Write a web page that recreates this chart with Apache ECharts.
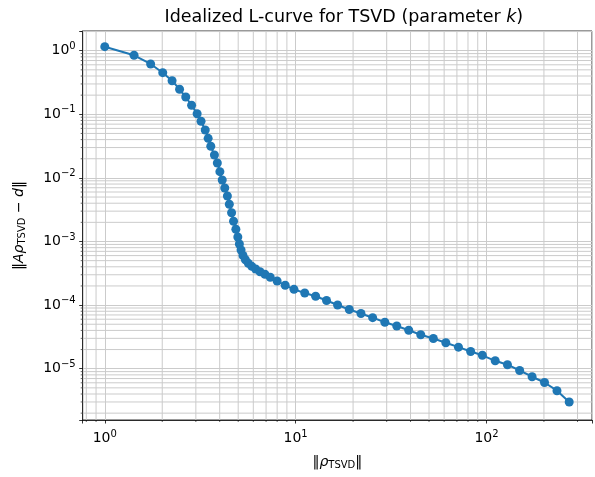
<!DOCTYPE html>
<html><head><meta charset="utf-8">
<script src="https://cdn.jsdelivr.net/npm/echarts@6/dist/echarts.min.js"></script>
<style>html,body{margin:0;padding:0;background:#fff}#c{width:595px;height:477px}</style>
</head><body><div id="c"></div>
<script>
// ||rho_TSVD|| for each truncation parameter k
const rhoNorm = [1.0, 1.423, 1.739, 2.012, 2.252, 2.465, 2.656, 2.850, 3.047, 3.194,
  3.360, 3.480, 3.593, 3.753, 3.888, 4.009, 4.124, 4.252, 4.389, 4.493,
  4.617, 4.727, 4.862, 4.977, 5.072, 5.175, 5.298, 5.456, 5.652, 5.89,
  6.173, 6.509, 6.902, 7.363, 7.997, 8.816, 9.802, 11.16, 12.73, 14.52,
  16.59, 19.10, 22.0, 25.33, 29.35, 33.88, 39.15, 45.24, 52.67, 61.23,
  71.33, 82.63, 95.17, 111.1, 128.8, 149.2, 173.4, 201.4, 234.1, 271.3];
// ||A rho_TSVD - d|| for each k
const residNorm = [1.156, 0.847, 0.618, 0.451, 0.3375, 0.2472, 0.187, 0.1385, 0.1022, 0.0776,
  0.0566, 0.0419, 0.0314, 0.0229, 0.01715, 0.01252, 0.00927, 0.00694, 0.00519, 0.003845,
  0.002836, 0.002078, 0.001555, 0.001177, 0.000913, 0.000735, 0.000602, 0.000516, 0.000454, 0.000407,
  0.000369, 0.000335, 0.000305, 0.000274, 0.000239, 0.0002048, 0.000177, 0.000155, 0.000138, 0.000118,
  0.0001004, 8.53e-5, 7.38e-5, 6.34e-5, 5.38e-5, 4.69e-5, 4.03e-5, 3.42e-5, 2.98e-5, 2.56e-5,
  2.18e-5, 1.864e-5, 1.624e-5, 1.331e-5, 1.156e-5, 9.37e-6, 7.48e-6, 6.07e-6, 4.51e-6, 2.995e-6];
// axis limits
const xLimits = [0.766, 357.2];
const yLimits = [1.561e-6, 2.04];
// minor tick values
const xMinorTicks = [0.8, 0.9, 2, 3, 4, 5, 6, 7, 8, 9, 20, 30, 40, 50, 60, 70, 80, 90, 200, 300];
const yMinorTicks = [];
[1e-6, 1e-5, 1e-4, 1e-3, 1e-2, 1e-1, 1].forEach(function (d) {
  [2, 3, 4, 5, 6, 7, 8, 9].forEach(function (m) {
    const v = +(d * m).toPrecision(3);
    if (v >= yLimits[0] && v <= yLimits[1]) yMinorTicks.push(v);
  });
});

const FONT = 'DejaVu Sans';
const GRID_COLOR = '#cbcbcb';

function powLabel(v) {
  const e = Math.log10(v);
  const r = Math.round(e);
  if (Math.abs(e - r) > 1e-6) return '';
  return '{b|10}{s|' + String(r).replace('-', '\u2212') + '}';
}
const tickRich = {
  b: { fontFamily: FONT, fontSize: 14, color: '#000' },
  s: { fontFamily: FONT, fontSize: 10, color: '#000', padding: [0, 0, 9, 0] }
};

const chart = echarts.init(document.getElementById('c'), null, { renderer: 'canvas' });
chart.setOption({
  animation: false,
  backgroundColor: '#fff',
  grid: {
    left: 82.7, top: 31, width: 522.2, height: 389,
    show: true, borderColor: '#000', borderWidth: 0.8, backgroundColor: 'transparent'
  },
  graphic: [{
    type: 'text', x: 343.8, y: 17, z: 10,
    style: {
      text: '{n|Idealized L-curve for TSVD (parameter }{i|k}{n|)}',
      textAlign: 'center', textVerticalAlign: 'middle',
      rich: {
        n: { fontFamily: FONT, fontSize: 17.5, color: '#000' },
        i: { fontFamily: FONT, fontSize: 17.5, fontStyle: 'italic', color: '#000' }
      }
    }
  }],
  xAxis: {
    type: 'log', logBase: 10, min: xLimits[0], max: xLimits[1],
    name: '{n|\u2016}{i|\u03c1}{sub|TSVD}{n|\u2016}',
    nameLocation: 'middle', nameGap: 34,
    nameTextStyle: {
      rich: {
        n: { fontFamily: FONT, fontSize: 14, color: '#000' },
        i: { fontFamily: FONT, fontSize: 14, fontStyle: 'italic', color: '#000' },
        sub: { fontFamily: FONT, fontSize: 10, color: '#000', padding: [6, 0, 0, 0] }
      }
    },
    axisLine: { show: true, lineStyle: { color: '#000', width: 0.8 } },
    axisTick: { show: true, inside: false, length: 3.5, lineStyle: { color: '#000', width: 0.8 } },
    axisLabel: { margin: 9, formatter: powLabel, rich: tickRich, showMinLabel: true, showMaxLabel: true },
    splitLine: { show: true, lineStyle: { color: GRID_COLOR, width: 1 } },
    minorTick: { show: false }
  },
  yAxis: {
    type: 'log', logBase: 10, min: yLimits[0], max: yLimits[1],
    name: '{n|\u2016}{i|A\u03c1}{sub|TSVD}{n| \u2212 }{i|d}{n|\u2016}',
    nameLocation: 'middle', nameGap: 55, nameRotate: 90,
    nameTextStyle: {
      rich: {
        n: { fontFamily: FONT, fontSize: 14, color: '#000' },
        i: { fontFamily: FONT, fontSize: 14, fontStyle: 'italic', color: '#000' },
        sub: { fontFamily: FONT, fontSize: 10, color: '#000', padding: [6, 0, 0, 0] }
      }
    },
    axisLine: { show: true, lineStyle: { color: '#000', width: 0.8 } },
    axisTick: { show: true, inside: false, length: 3.5, lineStyle: { color: '#000', width: 0.8 } },
    axisLabel: { margin: 7, formatter: powLabel, rich: tickRich },
    splitLine: { show: true, lineStyle: { color: GRID_COLOR, width: 1 } }
  },
  series: [
    {
      type: 'custom', z: 1, silent: true, clip: false,
      data: xMinorTicks.map(function (v) { return [v, 1]; }),
      renderItem: function (params, api) {
        const cs = params.coordSys;
        const x = api.coord([api.value(0), 1])[0];
        return { type: 'group', children: [
          { type: 'line', shape: { x1: x, y1: cs.y, x2: x, y2: cs.y + cs.height }, style: { stroke: GRID_COLOR, lineWidth: 1 } },
          { type: 'line', shape: { x1: x, y1: cs.y + cs.height, x2: x, y2: cs.y + cs.height + 2 }, style: { stroke: '#000', lineWidth: 0.6 } }
        ] };
      }
    },
    {
      type: 'custom', z: 1, silent: true, clip: false,
      data: yMinorTicks.map(function (v) { return [1, v]; }),
      renderItem: function (params, api) {
        const cs = params.coordSys;
        const y = api.coord([1, api.value(1)])[1];
        return { type: 'group', children: [
          { type: 'line', shape: { x1: cs.x, y1: y, x2: cs.x + cs.width, y2: y }, style: { stroke: GRID_COLOR, lineWidth: 1 } },
          { type: 'line', shape: { x1: cs.x - 2, y1: y, x2: cs.x, y2: y }, style: { stroke: '#000', lineWidth: 0.6 } }
        ] };
      }
    },
    {
      type: 'line', z: 5,
      data: rhoNorm.map(function (x, i) { return [x, residNorm[i]]; }),
      symbol: 'circle', symbolSize: 9, showSymbol: true,
      itemStyle: { color: '#1f77b4' },
      lineStyle: { color: '#1f77b4', width: 2 }
    }
  ]
});
</script>
</body></html>
